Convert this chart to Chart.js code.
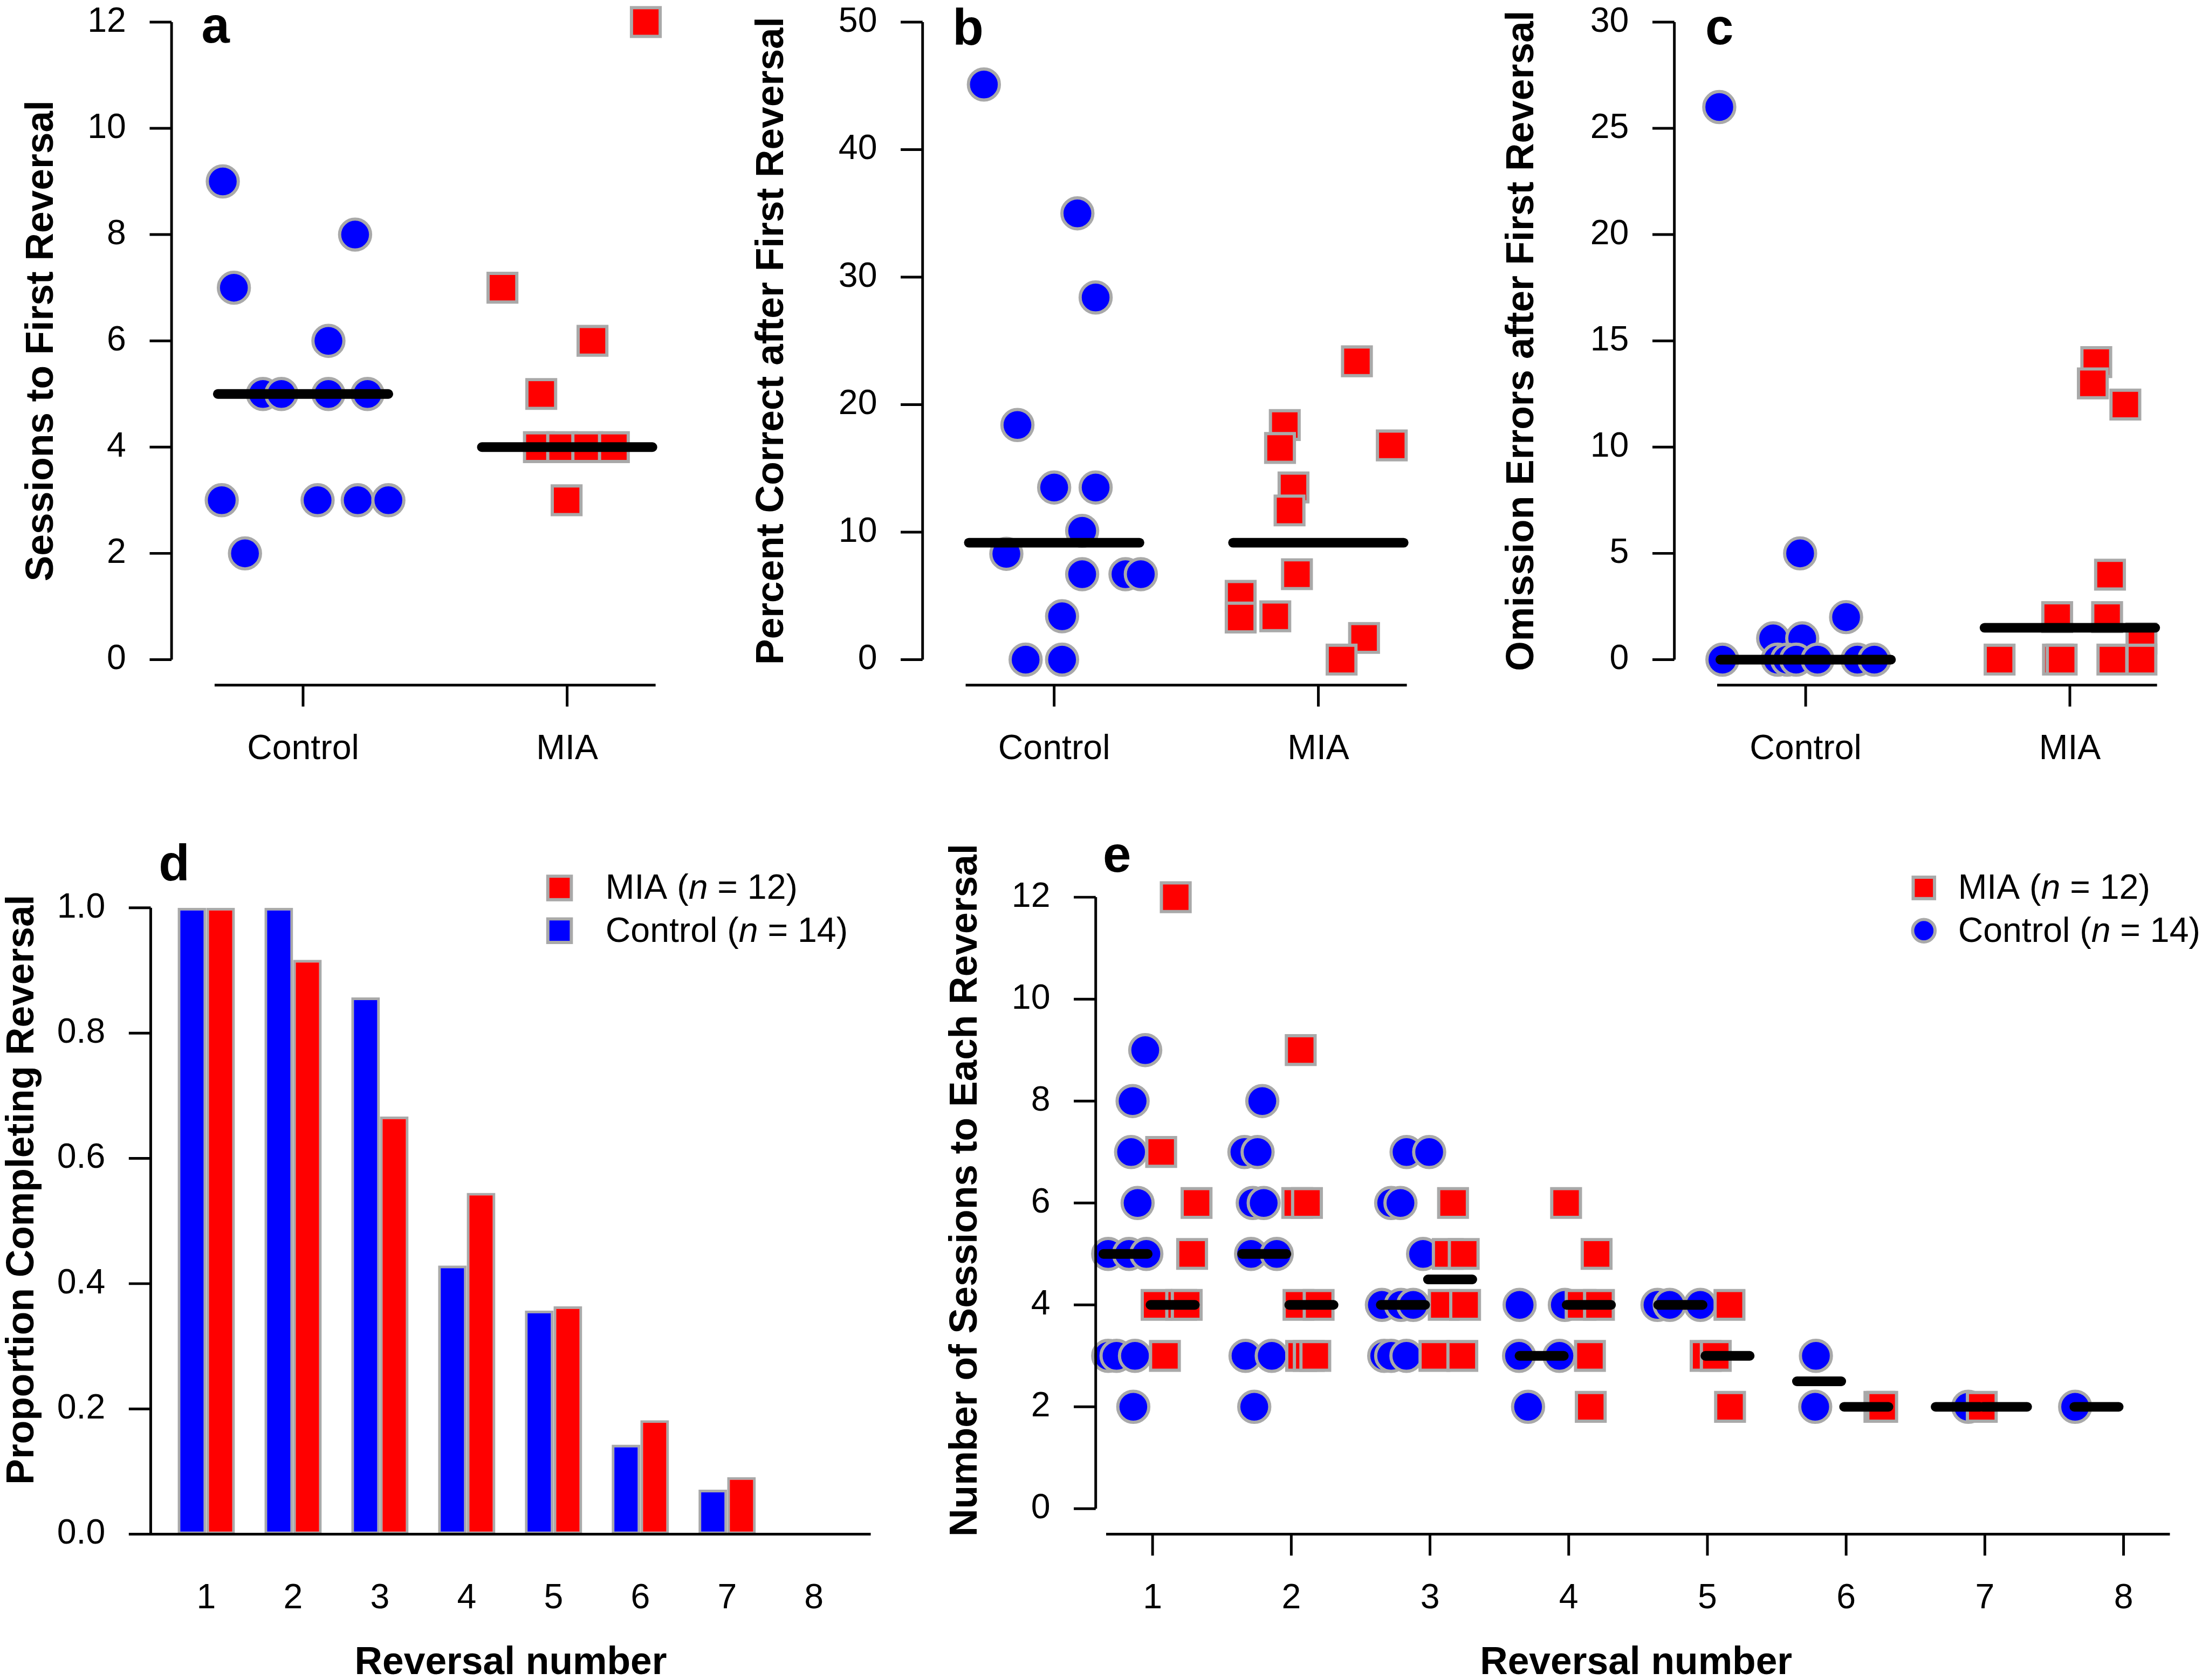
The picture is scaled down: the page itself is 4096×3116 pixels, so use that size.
<!DOCTYPE html>
<html>
<head>
<meta charset="utf-8">
<script src="https://cdn.jsdelivr.net/npm/chart.js@4/dist/chart.umd.min.js"></script>
<style>
  html, body { margin: 0; padding: 0; background: #fff; overflow: hidden; }
  #fig { position: relative; width: 4096px; height: 3116px; overflow: hidden; background: #fff; }
  #fig canvas { position: absolute; }
</style>
</head>
<body>
<div id="fig"></div>
<script>
const S = 0.991;
const FONT = '"Liberation Sans", Arial, Helvetica, sans-serif';
const BLUE = '#0000ff', RED = '#ff0000', EDGE = '#a9a9a9';

// ---- shared labels ----
const groups = ['Control', 'MIA'];
const reversals = [1, 2, 3, 4, 5, 6, 7, 8];
const revLabels = ['1', '2', '3', '4', '5', '6', '7', '8'];
const legendText = [['MIA (', 'n', ' = 12)'], ['Control (', 'n', ' = 14)']];

// ---- a: sessions to first reversal ----
const aTicks = [0, 2, 4, 6, 8, 10, 12];
const aCtrlX = [0.696, 0.738, 0.692, 0.780, 0.848, 0.918, 1.096, 1.096, 1.244, 1.197, 1.055, 1.207, 1.323];
const aCtrlY = [9, 7, 3, 2, 5, 5, 6, 5, 5, 8, 3, 3, 3];
const aMiaX = [2.298, 1.755, 2.096, 1.902, 1.893, 1.981, 2.076, 2.177, 1.998];
const aMiaY = [12, 7, 6, 5, 4, 4, 4, 4, 3];
const aMedians = [5, 4];

// ---- b: percent correct after first reversal ----
const bTicks = [0, 10, 20, 30, 40, 50];
const bCtrlX = [0.734, 1.088, 1.157, 0.861, 1.000, 1.157, 1.106, 0.819, 1.106, 1.270, 1.328, 1.030, 0.892, 1.030];
const bCtrlY = [45.1, 35.0, 28.4, 18.4, 13.5, 13.5, 10.1, 8.3, 6.7, 6.7, 6.7, 3.4, 0, 0];
const bMiaX = [2.146, 1.873, 1.855, 2.278, 1.906, 1.891, 1.919, 1.706, 1.706, 1.837, 2.173, 2.088];
const bMiaY = [23.4, 18.4, 16.6, 16.8, 13.5, 11.7, 6.7, 5.0, 3.3, 3.4, 1.7, 0];
const bMedians = [9.17, 9.17];

// ---- c: omission errors after first reversal ----
const cTicks = [0, 5, 10, 15, 20, 25, 30];
const cCtrlX = [0.673, 0.979, 1.153, 0.877, 0.987, 0.685, 0.894, 0.930, 0.964, 1.045, 1.196, 1.260];
const cCtrlY = [26, 5, 2, 1, 1, 0, 0, 0, 0, 0, 0, 0];
const cMiaX = [2.100, 2.087, 2.210, 2.152, 1.952, 2.141, 2.271, 1.734, 1.955, 1.969, 2.161, 2.271];
const cMiaY = [14, 13, 12, 4, 2, 2, 1, 0, 0, 0, 0, 0];
const cMedians = [0, 1.5];

// ---- d: proportion completing each reversal ----
const dTicks = [0, 0.2, 0.4, 0.6, 0.8, 1.0];
const dTickLabels = ['0.0', '0.2', '0.4', '0.6', '0.8', '1.0'];
const dControl = [1, 1, 0.857, 0.429, 0.357, 0.143, 0.071, 0];
const dMia = [1, 0.917, 0.667, 0.545, 0.364, 0.182, 0.091, 0];

// ---- e: sessions to each reversal ----
const eTicks = [0, 2, 4, 6, 8, 10, 12];
const eCtrlX = [0.947, 0.856, 0.845, 0.892, 0.68, 0.83, 0.955, 0.68, 0.74, 0.873, 0.861,
  1.791, 1.662, 1.757, 1.722, 1.801, 1.71, 1.895, 1.67, 1.859, 1.733,
  2.831, 2.994, 2.72, 2.787, 2.95, 2.653, 2.79, 2.879, 2.67, 2.72, 2.83,
  3.646, 3.972, 3.642, 3.933, 3.707,
  4.64, 4.728, 4.949,
  5.782, 5.777,
  6.88,
  7.651];
const eCtrlY = [9, 8, 7, 6, 5, 5, 5, 3, 3, 3, 2,
  8, 7, 7, 6, 6, 5, 5, 3, 3, 2,
  7, 7, 6, 6, 5, 4, 4, 4, 3, 3, 3,
  4, 4, 3, 3, 2,
  4, 4, 4,
  3, 2,
  2,
  2];
const eMiaX = [1.167, 1.062, 1.317, 1.285, 1.029, 1.206, 1.246, 1.089,
  2.068, 2.043, 2.113, 2.052, 2.197, 2.071, 2.126, 2.173,
  3.166, 3.128, 3.243, 3.099, 3.253, 3.032, 3.233,
  3.981, 4.201, 4.086, 4.218, 4.153, 4.159,
  5.159, 4.987, 5.060, 5.163,
  6.24, 6.26,
  6.978];
const eMiaY = [12, 7, 6, 5, 4, 4, 4, 3,
  9, 6, 6, 4, 4, 3, 3, 3,
  6, 5, 5, 4, 4, 3, 3,
  6, 5, 4, 4, 3, 2,
  4, 3, 3, 2,
  2, 2,
  2];
const eCtrlMed = [5, 5, 4, 3, 4, 2.5, 2, 2];
const eMiaMed = [4, 4, 4.5, 4, 3, 2, 2];

// ---------------------------------------------------------------
const fig = document.getElementById('fig');
const tickFont = { family: FONT, size: 65 * S };
const titleFont = { family: FONT, size: 72 * S, weight: 'bold' };

const pts = (xs, ys) => xs.map((x, i) => ({ x, y: ys[i] }));

function pointSet(xs, ys, shape) {
  const ctrl = shape === 'circle';
  return {
    data: pts(xs, ys),
    pointStyle: shape,
    pointRadius: (ctrl ? 29 : 38) * S,
    pointBackgroundColor: ctrl ? BLUE : RED,
    pointBorderColor: EDGE,
    pointBorderWidth: 6 * S,
    showLine: false,
    order: ctrl ? 2 : 1,
    clip: false
  };
}

// one short thick segment per group median
function medianSets(centers, values, lo, hi) {
  return values.map((v, i) => ({
    data: [{ x: centers[i] + lo, y: v }, { x: centers[i] + hi, y: v }],
    showLine: true,
    borderColor: '#000',
    borderWidth: 18 * S,
    borderCapStyle: 'round',
    pointRadius: 0,
    order: 0,
    clip: false
  }));
}

function makePanel(p) {
  const [x0, y0, x1, y1] = p.box;
  const [L, T, R, B] = p.area;
  const canvas = document.createElement('canvas');
  const w = Math.round((x1 - x0) * S), h = Math.round((y1 - y0) * S);
  canvas.width = w; canvas.height = h;
  Object.assign(canvas.style, { left: x0 * S + 'px', top: y0 * S + 'px', width: w + 'px', height: h + 'px' });
  fig.appendChild(canvas);
  const loc = (x, y) => [(x - x0) * S, (y - y0) * S];

  // R-style detached axes, panel letter and legend
  const overlay = {
    id: 'overlay',
    afterDraw(chart) {
      const { ctx, chartArea: ca, scales: { x, y } } = chart;
      ctx.save();
      ctx.strokeStyle = '#000';
      ctx.lineWidth = 5 * S;
      ctx.beginPath();
      const yt = p.yTicks;
      ctx.moveTo(ca.left, y.getPixelForValue(yt[0]));
      ctx.lineTo(ca.left, y.getPixelForValue(yt[yt.length - 1]));
      yt.forEach(v => {
        const py = y.getPixelForValue(v);
        ctx.moveTo(ca.left, py);
        ctx.lineTo(ca.left - 41 * S, py);
      });
      const ax = ca.bottom;
      ctx.moveTo(x.getPixelForValue(p.xLine[0]), ax);
      ctx.lineTo(x.getPixelForValue(p.xLine[1]), ax);
      if (p.xTickMarks) {
        p.xTicks.forEach(v => {
          const px = x.getPixelForValue(v);
          ctx.moveTo(px, ax);
          ctx.lineTo(px, ax + 40 * S);
        });
      }
      ctx.stroke();

      ctx.fillStyle = '#000';
      ctx.textAlign = 'left';
      ctx.textBaseline = 'alphabetic';
      ctx.font = `bold ${95 * S}px ${FONT}`;
      const [lx, ly] = loc(p.letter[1], p.letter[2]);
      ctx.fillText(p.letter[0], lx, ly);

      if (p.legend) {
        const lg = p.legend;
        lg.rows.forEach((row, k) => {
          const [mx, my] = loc(lg.markerX, row.cy);
          ctx.fillStyle = row.fill;
          ctx.strokeStyle = EDGE;
          ctx.lineWidth = 6 * S;
          ctx.beginPath();
          const half = (row.size - 6) / 2 * S;
          if (row.shape === 'circle') ctx.arc(mx, my, half, 0, Math.PI * 2);
          else ctx.rect(mx - half, my - half, half * 2, half * 2);
          ctx.fill();
          ctx.stroke();
          let [tx, ty] = loc(lg.textX, row.base);
          ctx.fillStyle = '#000';
          legendText[k].forEach((part, j) => {
            ctx.font = `${j === 1 ? 'italic ' : ''}${65 * S}px ${FONT}`;
            ctx.fillText(part, tx, ty);
            tx += ctx.measureText(part).width;
          });
        });
      }
      ctx.restore();
    }
  };

  return new Chart(canvas, {
    type: p.type,
    data: { datasets: p.datasets },
    options: {
      responsive: false,
      animation: false,
      devicePixelRatio: 1,
      events: [],
      layout: { padding: { left: 0, top: (T - y0) * S, right: (x1 - R) * S, bottom: 0 } },
      plugins: { legend: { display: false }, tooltip: { enabled: false } },
      datasets: { bar: { categoryPercentage: 0.66, barPercentage: 1 } },
      scales: {
        x: {
          type: 'linear', min: p.xRange[0], max: p.xRange[1], offset: false,
          afterBuildTicks: s => { s.ticks = p.xTicks.map(v => ({ value: v })); },
          afterFit: s => { s.height = (y1 - B) * S; s.paddingLeft = 0; s.paddingRight = 0; },
          grid: { display: false, drawTicks: false },
          border: { display: false },
          ticks: {
            autoSkip: false, maxRotation: 0, minRotation: 0, padding: 82 * S,
            font: tickFont, color: '#000', callback: (v, i) => p.xLabels[i]
          },
          title: p.xTitle
            ? { display: true, text: p.xTitle, font: titleFont, color: '#000', padding: { top: 0, bottom: 2.8 * S } }
            : { display: false }
        },
        y: {
          type: 'linear', min: p.yRange[0], max: p.yRange[1],
          afterBuildTicks: s => { s.ticks = p.yTicks.map(v => ({ value: v })); },
          afterFit: s => { s.width = (L - x0) * S; s.paddingTop = 0; s.paddingBottom = 0; },
          grid: { display: false, drawTicks: false },
          border: { display: false },
          ticks: {
            autoSkip: false, padding: 85 * S, font: tickFont, color: '#000',
            callback: (v, i) => p.yLabels[i]
          },
          title: {
            display: true, text: p.yTitle, font: titleFont, color: '#000',
            padding: { top: p.titlePad * S, bottom: 0 }
          }
        }
      }
    },
    plugins: [overlay]
  });
}

// ---- panel a ----
makePanel({
  type: 'scatter', box: [0, -50, 1335, 1480], area: [321, -7, 1283, 1283],
  xRange: [0.502, 2.449], yRange: [-0.48, 12.48],
  xTicks: [1, 2], xLabels: groups, xTickMarks: true, xLine: [0.665, 2.335],
  yTicks: aTicks, yLabels: aTicks.map(String),
  yTitle: 'Sessions to First Reversal', titlePad: 35.8,
  letter: ['a', 377, 80],
  datasets: [...medianSets([1, 2], aMedians, -0.323, 0.323),
    pointSet(aCtrlX, aCtrlY, 'circle'), pointSet(aMiaX, aMiaY, 'rect')]
});

// ---- panel b ----
makePanel({
  type: 'scatter', box: [1360, -50, 2740, 1480], area: [1726, -7, 2688, 1283],
  xRange: [0.502, 2.449], yRange: [-2.0, 52.0],
  xTicks: [1, 2], xLabels: groups, xTickMarks: true, xLine: [0.665, 2.335],
  yTicks: bTicks, yLabels: bTicks.map(String),
  yTitle: 'Percent Correct after First Reversal', titlePad: 41.8,
  letter: ['b', 1782, 84],
  datasets: [...medianSets([1, 2], bMedians, -0.323, 0.323),
    pointSet(bCtrlX, bCtrlY, 'circle'), pointSet(bMiaX, bMiaY, 'rect')]
});

// ---- panel c ----
makePanel({
  type: 'scatter', box: [2760, -50, 4145, 1480], area: [3133, -7, 4095, 1283],
  xRange: [0.503, 2.450], yRange: [-1.2, 31.2],
  xTicks: [1, 2], xLabels: groups, xTickMarks: true, xLine: [0.665, 2.33],
  yTicks: cTicks, yLabels: cTicks.map(String),
  yTitle: 'Omission Errors after First Reversal', titlePad: 45.8,
  letter: ['c', 3191, 83],
  datasets: [...medianSets([1, 2], cMedians, -0.323, 0.323),
    pointSet(cCtrlX, cCtrlY, 'circle'), pointSet(cMiaX, cMiaY, 'rect')]
});

// ---- panel d ----
makePanel({
  type: 'bar', box: [0, 1540, 1690, 3160], area: [282, 1582, 1629, 2872],
  xRange: [0.36, 8.654], yRange: [0, 1.1],
  xTicks: reversals, xLabels: revLabels, xTickMarks: false, xLine: [0.108, 8.654],
  yTicks: dTicks, yLabels: dTickLabels, xTitle: 'Reversal number',
  yTitle: 'Proportion Completing Reversal', titlePad: 0,
  letter: ['d', 297, 1648],
  legend: {
    markerX: 1047, textX: 1133,
    rows: [{ cy: 1662, base: 1682, shape: 'rect', fill: RED, size: 50 },
           { cy: 1742, base: 1763, shape: 'rect', fill: BLUE, size: 50 }]
  },
  datasets: [
    { data: pts(reversals, dControl), backgroundColor: BLUE, borderColor: EDGE, borderWidth: 5 * S, borderSkipped: false },
    { data: pts(reversals, dMia), backgroundColor: RED, borderColor: EDGE, borderWidth: 5 * S, borderSkipped: false }
  ]
});

// ---- panel e ----
makePanel({
  type: 'scatter', box: [1740, 1540, 4135, 3160], area: [2050.5, 1581, 4073, 2872],
  xRange: [0.590, 8.381], yRange: [-0.5, 13.0],
  xTicks: reversals, xLabels: revLabels, xTickMarks: true, xLine: [0.665, 8.334],
  yTicks: eTicks, yLabels: eTicks.map(String), xTitle: 'Reversal number',
  yTitle: 'Number of Sessions to Each Reversal', titlePad: 24.8,
  letter: ['e', 2064, 1632],
  legend: {
    markerX: 3600, textX: 3664,
    rows: [{ cy: 1662, base: 1682, shape: 'rect', fill: RED, size: 46 },
           { cy: 1742, base: 1763, shape: 'circle', fill: BLUE, size: 48 }]
  },
  datasets: [...medianSets(reversals, eCtrlMed, -0.355, -0.035),
    ...medianSets(reversals, eMiaMed, -0.015, 0.305),
    pointSet(eCtrlX, eCtrlY, 'circle'), pointSet(eMiaX, eMiaY, 'rect')]
});
</script>
</body>
</html>
